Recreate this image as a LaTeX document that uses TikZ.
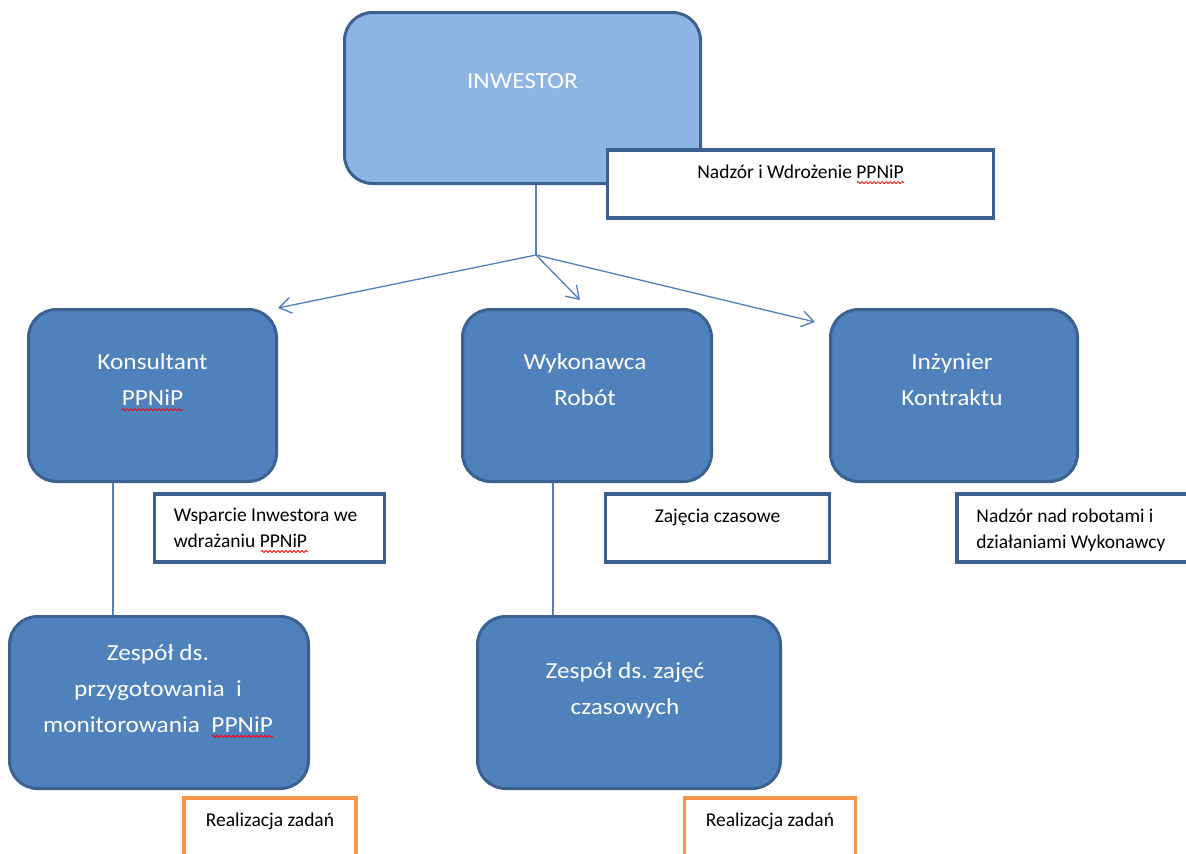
\documentclass[tikz,border=0pt]{standalone}
\usepackage{fontspec}
\setmainfont{Carlito}
\newfontfamily\boxfont{Carlito}[FakeStretch=1.1]
\usepackage{xcolor}
\usetikzlibrary{arrows.meta,positioning,calc,decorations.pathmorphing}
\definecolor{accent}{HTML}{4F81BD}
\definecolor{accentlight}{HTML}{8EB4E3}
\definecolor{accentdark}{HTML}{3B6191}
\definecolor{orangeline}{HTML}{F79646}
\frenchspacing

\begin{document}
\begin{tikzpicture}[
        x=1pt,y=-1pt,
        >={Straight Barb[length=12pt,width=16pt]},
        unit/.style={rectangle,rounded corners=28pt,draw=accentdark,line width=3pt,fill=accent,minimum height=172pt,inner sep=0pt},
        topunit/.style={unit,fill=accentlight},
        note/.style={rectangle,draw=accentdark,line width=3.5pt,fill=white,minimum height=68pt,inner sep=0pt},
        task/.style={rectangle,draw=orangeline,line width=3.5pt,fill=white,minimum height=68pt,inner sep=0pt},
        unittext/.style={text=white,font=\boxfont\fontsize{23}{36}\selectfont,align=center,inner sep=0pt},
        notetext/.style={text=black,font=\fontsize{19.5}{26}\selectfont,align=center,inner sep=0pt},
        link/.style={draw=accent,line width=1.3pt},
        arrow/.style={link,->},
        squiggle/.style={draw=red,line width=0.8pt,decorate,decoration={snake,amplitude=1.1pt,segment length=4pt}}
    ]
        \clip (0,0) rectangle (1186,854);

        \node[topunit,minimum width=356pt,minimum height=171pt] (inv) at (522.5,98) {};
        \node[unittext] (invt) at ([yshift=17pt]inv.center) {INWESTOR};
        \node[note,minimum width=386pt] (nadzi) at (800.5,184) {};
        \node[notetext] (nadzit) at ([yshift=12pt]nadzi.center) {Nadzór i Wdrożenie PPNiP};

        \node[unit,minimum width=248pt] (kons) at (152.5,395.5) {};
        \node[unittext] (konst) at ([yshift=15.5pt]kons.center) {Konsultant\\PPNiP};
        \node[unit,minimum width=249pt] (wyk) at (587,395.5) {};
        \node[unittext] (wykt) at ([xshift=-2pt,yshift=15.5pt]wyk.center) {Wykonawca\\Robót};
        \node[unit,minimum width=247pt] (inz) at (954,395.5) {};
        \node[unittext] (inzt) at ([xshift=-2pt,yshift=15.5pt]inz.center) {Inżynier\\Kontraktu};

        \node[note,minimum width=230pt] (wsp) at (269.5,528) {};
        \node[notetext,align=left,anchor=west] (wspt) at ([xshift=21pt]wsp.west) {Wsparcie Inwestora we\\wdrażaniu PPNiP};
        \node[note,minimum width=224pt] (zaj) at (717.5,528) {};
        \node[notetext] (zajt) at ([yshift=10.5pt]zaj.center) {Zajęcia czasowe};
        \node[note,minimum width=240pt] (nadzr) at (1077,528) {};
        \node[notetext,align=left,anchor=west] (nadzrt) at ([xshift=21pt,yshift=-2pt]nadzr.west) {Nadzór nad robotami i\\działaniami Wykonawcy};

        \node[unit,minimum width=299pt] (zprz) at (159,702.5) {};
        \node[unittext] (zprzt) at ([xshift=-1pt,yshift=14pt]zprz.center) {Zespół ds.\\przygotowania~ i\\monitorowania~ PPNiP};
        \node[unit,minimum width=303pt] (zzaj) at (629,702.5) {};
        \node[unittext] (zzajt) at ([xshift=-4pt,yshift=12pt]zzaj.center) {Zespół ds. zajęć\\czasowych};

        \node[task,minimum width=172pt] (real1) at (270,832) {};
        \node[notetext] (real1t) at ([yshift=11pt]real1.center) {Realizacja zadań};
        \node[task,minimum width=171pt] (real2) at (770,832) {};
        \node[notetext] (real2t) at ([yshift=11pt]real2.center) {Realizacja zadań};

        \coordinate (fork) at (536,255);
        \draw[link] (inv.south -| fork) -- (fork);
        \draw[arrow] (fork) -- (kons.north east);
        \draw[arrow] (fork) -- ([xshift=-7pt,yshift=8pt]wyk.north);
        \draw[arrow] (fork) -- ([xshift=-14pt,yshift=-14pt]inz.north west);
        \draw[link] ([xshift=-39.5pt]kons.south) -- ([xshift=-39.5pt]kons.south |- zprz.north);
        \draw[link] ([xshift=-34pt]wyk.south) -- ([xshift=-34pt]wyk.south |- zzaj.north);

        \draw[squiggle] ([xshift=-47pt,yshift=-3.5pt]nadzit.south east) -- ([yshift=-3.5pt]nadzit.south east);
        \draw[squiggle] ([xshift=-31pt,yshift=-3.5pt]konst.south) -- ([xshift=31pt,yshift=-3.5pt]konst.south);
        \draw[squiggle] ([xshift=87pt,yshift=-3.5pt]wspt.south west) -- ([xshift=134pt,yshift=-3.5pt]wspt.south west);
        \draw[squiggle] ([xshift=54pt,yshift=-3.5pt]zprzt.south) -- ([xshift=115pt,yshift=-3.5pt]zprzt.south);
    \end{tikzpicture}
\end{document}
